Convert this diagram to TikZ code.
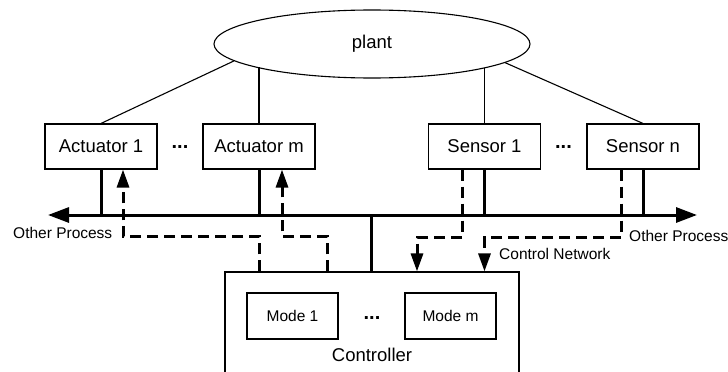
\documentclass[tikz,border=0pt]{standalone}
\usepackage{fontspec}
\setmainfont{Liberation Sans}
\usetikzlibrary{shapes.geometric,arrows.meta,calc}

\begin{document}
\begin{tikzpicture}[x=1pt,y=-1pt,
	wire/.style={line width=1.1pt},
	unit/.style={draw,wire,minimum width=112pt,minimum height=45pt,inner sep=0pt,font=\fontsize{18.5}{20}\selectfont},
	mode/.style={draw,wire,minimum width=91pt,minimum height=46pt,inner sep=0pt,font=\fontsize{15.5}{17}\selectfont},
	dots/.style={inner sep=0pt,font=\fontsize{20}{22}\selectfont\bfseries},
	lbl/.style={inner sep=0pt,font=\fontsize{15.5}{17}\selectfont},
	link/.style={line width=3pt},
	msg/.style={line width=3pt,dash pattern=on 11pt off 6pt},
	tip/.style={-{Triangle[length=18pt,width=12pt]}}]
	\useasboundingbox (0,0) rectangle (728,372);

	% plant and the units round it
	\node[ellipse,draw,wire,minimum width=316pt,minimum height=68pt,inner sep=0pt,font=\fontsize{18.5}{20}\selectfont] (plant) at (372,44) {plant};
	\node[unit] (act1) at (101,146.5) {Actuator 1};
	\node[unit] (actm) at (259,146.5) {Actuator m};
	\node[unit] (sen1) at (484.5,146.5) {Sensor 1};
	\node[unit] (senn) at (643,146.5) {Sensor n};
	\node[dots] (adots) at (180,147) {...};
	\node[dots] (sdots) at (563.5,147) {...};

	\draw[wire] (plant.187.6) -- (act1.north);
	\draw[wire] (plant.352.4) -- (senn.north);
	\draw[wire] (actm.north) -- (actm.north |- plant.191.9);
	\draw[wire] (sen1.north) -- (sen1.north |- plant.348.1);

	% controller
	\node[draw,wire,minimum width=294pt,minimum height=102pt] (ctrl) at (372,323) {};
	\node[mode] (mode1) at (292.5,316) {Mode 1};
	\node[mode] (modem) at (450.5,316) {Mode m};
	\node[dots] (mdots) at (372,318) {...};
	\node[inner sep=0pt,font=\fontsize{18.5}{20}\selectfont] (cname) at (372,355) {Controller};

	% control network
	\coordinate (busL) at (48,215);
	\coordinate (busR) at (697,215);
	\coordinate (hub) at (371,215);
	\draw[link,{Triangle[length=21pt,width=15pt]}-{Triangle[length=21pt,width=15pt]}] (busL) -- (busR);
	\draw[link] (act1.south) -- (act1.south |- busL);
	\draw[link] (actm.south) -- (actm.south |- busL);
	\draw[link] (sen1.south) -- (sen1.south |- busL);
	\draw[link] (senn.south) -- (senn.south |- busL);
	\draw[link] (hub) -- (hub |- ctrl.north);

	\draw[msg,tip] (actm.south |- ctrl.north) -- ++(0,-35) -| ([xshift=22pt]act1.south);
	\draw[msg,tip] ($(ctrl.north)+(-45,0)$) -- ++(0,-35) -| ([xshift=23pt]actm.south);
	\draw[msg,tip] ([xshift=-22.5pt]sen1.south) -- ++(0,68) -| ($(ctrl.north)+(45,0)$);
	\draw[msg,tip] ([xshift=-22pt]senn.south) -- ++(0,68) -| (sen1.south |- ctrl.north);

	\node[lbl,anchor=west] (oplft) at (13,232.5) {Other Process};
	\node[lbl,anchor=west] (oprgt) at (629,236) {Other Process};
	\node[lbl,anchor=west] (cnet) at (499,254) {Control Network};
\end{tikzpicture}
\end{document}
